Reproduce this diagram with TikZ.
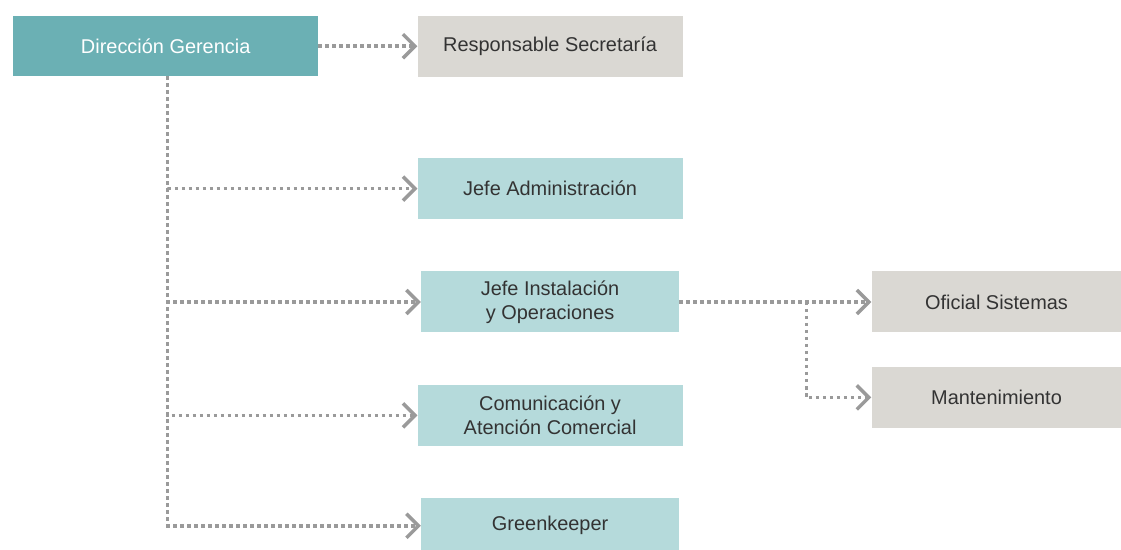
\documentclass[tikz,border=0pt]{standalone}
\usepackage{fontspec}
\setmainfont{Liberation Sans}
\usetikzlibrary{arrows.meta,positioning}
\definecolor{tealdark}{HTML}{6BB0B4}
\definecolor{teallight}{HTML}{B5DADB}
\definecolor{greybox}{HTML}{DAD8D3}
\definecolor{textgrey}{HTML}{333333}
\definecolor{linegrey}{HTML}{9A9A9A}

\begin{document}
\begin{tikzpicture}[
 x=1bp,y=-1bp,
 node distance=52bp and 99bp,
 every node/.style={font=\fontsize{20}{24}\selectfont},
 box/.style={fill=teallight,text=textgrey,align=center,inner sep=0pt,
              minimum width=265bp,minimum height=61bp},
 head/.style={box,fill=tealdark,text=white,minimum width=305bp,minimum height=60bp},
 staff/.style={box,fill=greybox},
 link/.style={draw=linegrey,line width=3.5bp,dash pattern=on 3.5bp off 3.5bp,
              -{Straight Barb[length=12bp,width=24bp,line width=3.5bp]}}
]
\useasboundingbox (0,0) rectangle (1121,550);
\node[head,anchor=north west] (dg) at (13,16) {Dirección Gerencia};
\node[staff,right=of dg] (sec) {Responsable Secretaría};
\node[box,below=81bp of sec] (adm) {Jefe Administración};
\node[box,below=of adm,minimum width=258bp] (ins) {Jefe Instalación\\y Operaciones};
\node[box,below=of ins] (com) {Comunicación y\\Atención Comercial};
\node[box,below=of com,minimum width=258bp,minimum height=55bp] (gk) {Greenkeeper};
\node[staff,right=192bp of ins,minimum width=250bp] (ofi) {Oficial Sistemas};
\node[staff,below=34bp of ofi,minimum width=250bp] (man) {Mantenimiento};
\coordinate[right=2bp of dg.south] (trunk);
\coordinate[right=127bp of ins.east] (split);
\draw[link] (dg)--(sec);
\draw[link] (trunk) |- (adm.west);
\draw[link] (trunk) |- (ins.west);
\draw[link] (trunk) |- (com.west);
\draw[link] (trunk) |- (gk.west);
\draw[link] (ins)--(ofi);
\draw[link] (split) |- (man.west);
\end{tikzpicture}
\end{document}
